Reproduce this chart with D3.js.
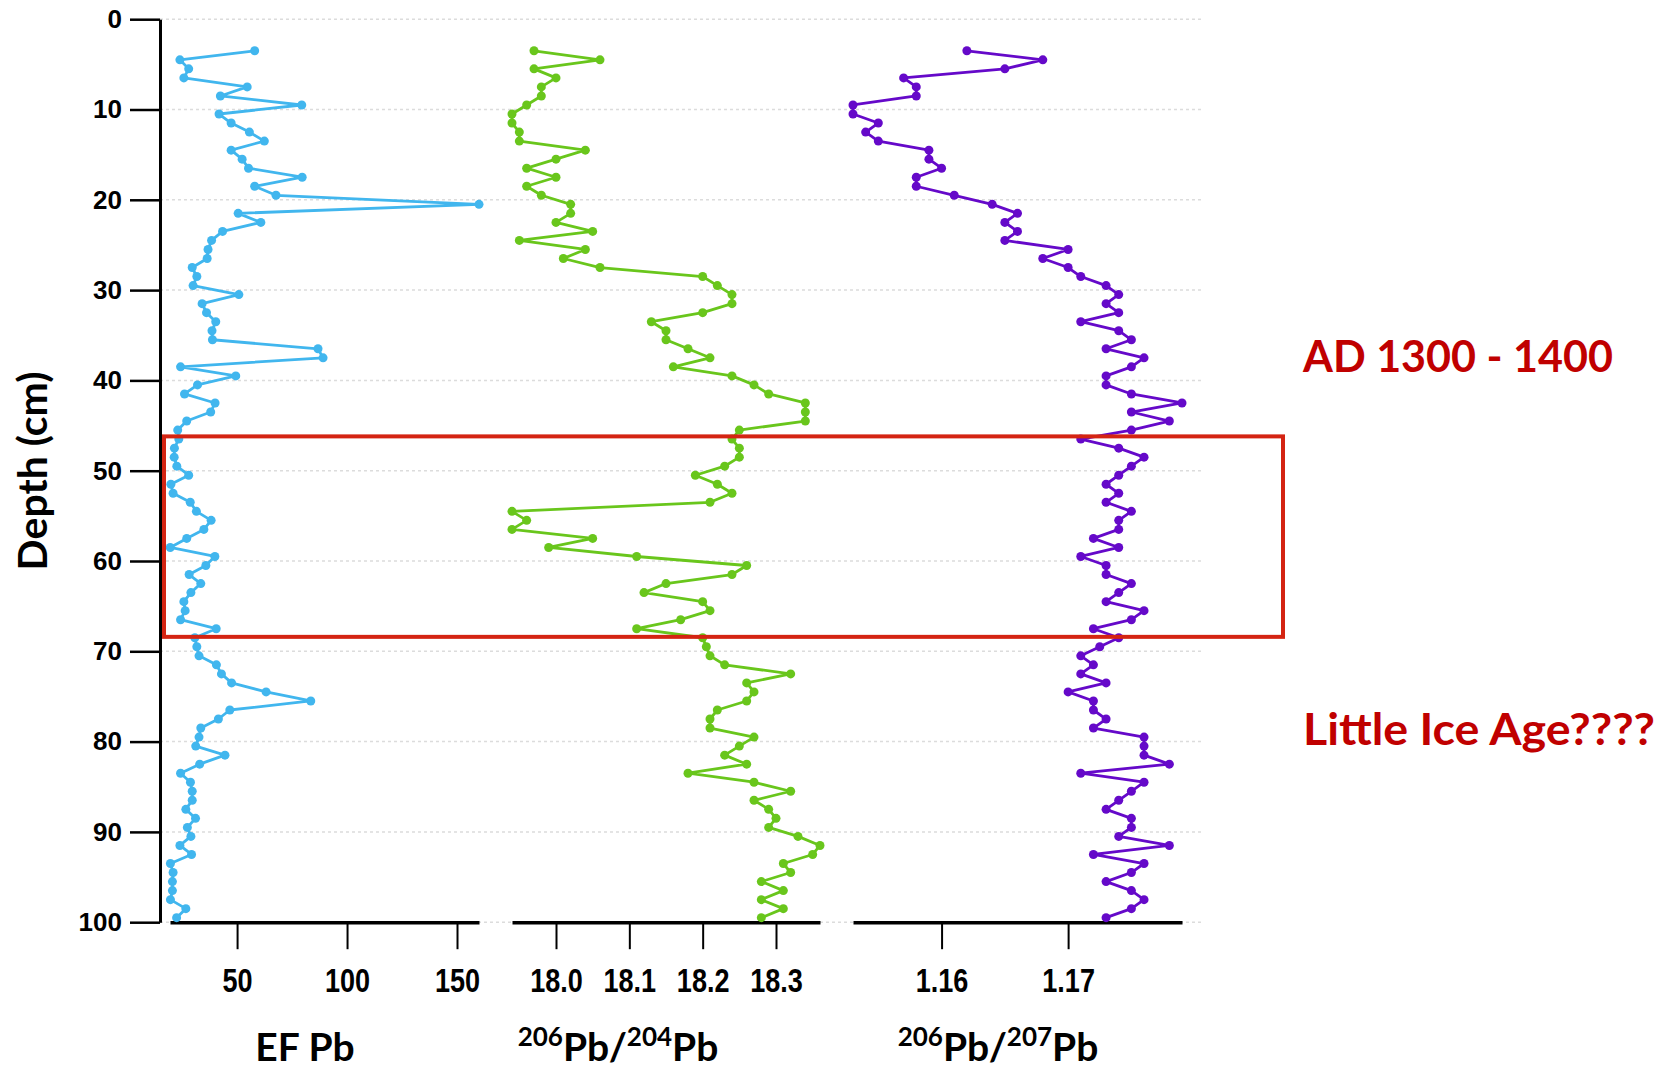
<!DOCTYPE html>
<html>
<head>
<meta charset="utf-8">
<script src="https://cdn.jsdelivr.net/npm/d3@7"></script>
<style>
	body { margin: 0; background: #fff; }
	svg { display: block; }
</style>
</head>
<body>
<div id="chart"></div>
<script>
// DATA
var depths = [3.5, 4.5, 5.5, 6.5, 7.5, 8.5, 9.5, 10.5, 11.5, 12.5, 13.5, 14.5, 15.5, 16.5, 17.5, 18.5, 19.5, 20.5, 21.5, 22.5,
	23.5, 24.5, 25.5, 26.5, 27.5, 28.5, 29.5, 30.5, 31.5, 32.5, 33.5, 34.5, 35.5, 36.5, 37.5, 38.5, 39.5, 40.5, 41.5, 42.5,
	43.5, 44.5, 45.5, 46.5, 47.5, 48.5, 49.5, 50.5, 51.5, 52.5, 53.5, 54.5, 55.5, 56.5, 57.5, 58.5, 59.5, 60.5, 61.5, 62.5,
	63.5, 64.5, 65.5, 66.5, 67.5, 68.5, 69.5, 70.5, 71.5, 72.5, 73.5, 74.5, 75.5, 76.5, 77.5, 78.5, 79.5, 80.5, 81.5, 82.5,
	83.5, 84.5, 85.5, 86.5, 87.5, 88.5, 89.5, 90.5, 91.5, 92.5, 93.5, 94.5, 95.5, 96.5, 97.5, 98.5, 99.5];

var efPb = [58.0, 24.0, 28.0, 25.8, 54.6, 42.4, 79.4, 41.8, 47.3, 55.6, 62.4, 47.3, 52.3, 55.2, 79.6, 58.0, 67.7, 160.0, 50.5, 60.8,
	43.4, 38.4, 36.8, 36.4, 29.6, 31.7, 30.0, 50.8, 34.1, 36.1, 40.3, 38.6,
	38.8, 86.8, 89.1, 24.3, 49.4, 32.0, 26.1, 40.0, 38.0, 27.1, 23.0, 23.5, 21.5, 21.4, 22.6, 28.0, 19.9, 20.9, 28.7, 31.5,
	38.2, 34.9, 27.1, 19.6, 39.9, 35.8, 28.2, 33.5, 29.0, 25.8, 26.4, 24.3, 40.5,
	30.8, 31.7, 32.7, 40.6, 42.9, 47.5, 63.2, 83.5, 46.7, 41.5, 33.5, 32.7, 31.2, 44.5, 33.0, 24.3, 28.8, 29.6, 29.6, 26.7,
	31.1, 27.4, 29.0, 24.0, 29.3, 19.7, 20.9, 20.6, 20.6, 19.7, 26.7, 22.5];

var pb206_204 = [17.97, 18.06, 17.97, 18.00, 17.98, 17.98, 17.96, 17.94, 17.94, 17.95, 17.95, 18.04, 18.00, 17.96, 18.00, 17.96,
	17.98, 18.02, 18.02, 18.00, 18.05, 17.95, 18.04, 18.01, 18.06, 18.20, 18.22, 18.24, 18.24, 18.20, 18.13, 18.15,
	18.15, 18.18, 18.21, 18.16, 18.24, 18.27, 18.29, 18.34, 18.34, 18.34, 18.25, 18.24, 18.25, 18.25, 18.23, 18.19, 18.22,
	18.24, 18.21, 17.94, 17.96, 17.94, 18.05, 17.99, 18.11, 18.26, 18.24, 18.15, 18.12, 18.20, 18.21, 18.17, 18.11,
	18.20, 18.205, 18.21, 18.23, 18.32, 18.26, 18.27, 18.26, 18.22, 18.21, 18.21, 18.27, 18.25, 18.23, 18.26, 18.18,
	18.27, 18.32, 18.27, 18.29, 18.30, 18.29, 18.33, 18.36, 18.35, 18.31, 18.32, 18.28, 18.31, 18.28, 18.31, 18.28];

var pb206_207 = [1.162, 1.168, 1.165, 1.157, 1.158, 1.158, 1.153, 1.153, 1.155, 1.154, 1.155, 1.159, 1.159, 1.160, 1.158, 1.158,
	1.161, 1.164, 1.166, 1.165, 1.166, 1.165, 1.170, 1.168, 1.170, 1.171, 1.173, 1.174, 1.173, 1.174, 1.171, 1.174,
	1.175, 1.173, 1.176, 1.175, 1.173, 1.173, 1.175, 1.179, 1.175, 1.178, 1.175, 1.171, 1.174, 1.176, 1.175, 1.174, 1.173,
	1.174, 1.173, 1.175, 1.174, 1.174, 1.172, 1.174, 1.171, 1.173, 1.173, 1.175, 1.174, 1.173, 1.176, 1.175, 1.172,
	1.174, 1.1725, 1.171, 1.172, 1.171, 1.173, 1.170, 1.172, 1.172, 1.173, 1.172, 1.176, 1.176, 1.176, 1.178, 1.171,
	1.176, 1.175, 1.174, 1.173, 1.175, 1.175, 1.174, 1.178, 1.172, 1.176, 1.175, 1.173, 1.175, 1.176, 1.175, 1.173];

var depthTicks = [0, 10, 20, 30, 40, 50, 60, 70, 80, 90, 100];
var efTicks = [50, 100, 150];
var ratio204Ticks = [18.0, 18.1, 18.2, 18.3];
var ratio207Ticks = [1.16, 1.17];
var boxDepths = [46.2, 68.4];
var notes = ["AD 1300 - 1400", "Little Ice Age????"];

// SETUP
var width = 1678, height = 1071;
var svg = d3.select("#chart").append("svg")
	.attr("width", width)
	.attr("height", height);

var y = d3.scaleLinear().domain([0, 100]).range([19.2, 922.2]);

var panels = [{
	values: efPb, ticks: efTicks, domain: [19.5, 160], range: [170, 479],
	color: "#41b6ee", fmt: d3.format("d"), title: [["EF Pb", false]], titleX: 305
}, {
	values: pb206_204, ticks: ratio204Ticks, domain: [17.94, 18.36], range: [512, 820],
	color: "#69c61c", fmt: d3.format(".1f"), title: [["206", true], ["Pb/", false], ["204", true], ["Pb", false]], titleX: 618
}, {
	values: pb206_207, ticks: ratio207Ticks, domain: [1.153, 1.179], range: [853, 1182],
	color: "#6509c9", fmt: d3.format(".2f"), title: [["206", true], ["Pb/", false], ["207", true], ["Pb", false]], titleX: 998
}];

var titleFont = "Lato, 'Open Sans', sans-serif";

// grid lines
svg.append("g")
	.selectAll("line")
	.data(depthTicks)
	.enter().append("line")
	.attr("x1", 160)
	.attr("x2", 1204)
	.attr("y1", function (d) { return y(d); })
	.attr("y2", function (d) { return y(d); })
	.attr("stroke", "#dcdcdc")
	.attr("stroke-width", 1.5)
	.attr("stroke-dasharray", "3,3");

// y axis
var yAxis = svg.append("g")
	.attr("transform", "translate(160,0)")
	.call(d3.axisLeft(y).tickValues(depthTicks).tickSize(30).tickSizeOuter(0).tickPadding(8));
yAxis.select(".domain").attr("stroke-width", 3);
yAxis.selectAll(".tick line").attr("stroke-width", 2.5);
yAxis.selectAll(".tick text")
	.attr("font-family", "'Liberation Sans', Arial, sans-serif")
	.attr("font-weight", "bold")
	.attr("font-size", 26)
	.attr("fill", "#000");

svg.append("text")
	.attr("transform", "translate(47,471) rotate(-90)")
	.attr("text-anchor", "middle")
	.attr("font-family", titleFont)
	.attr("font-weight", "bold")
	.attr("font-size", 41)
	.text("Depth (cm)");

// DRAWING
panels.forEach(function (p) {
	var x = d3.scaleLinear().domain(p.domain).range(p.range);

	var xAxis = svg.append("g")
		.attr("transform", "translate(0," + y(100) + ")")
		.call(d3.axisBottom(x).tickValues(p.ticks).tickFormat(p.fmt).tickSize(27).tickSizeOuter(0).tickPadding(19));
	xAxis.select(".domain").attr("stroke-width", 3.5);
	xAxis.selectAll(".tick line").attr("stroke-width", 2);
	xAxis.selectAll(".tick text")
		.attr("font-family", "'Liberation Sans', Arial, sans-serif")
		.attr("font-weight", "bold")
		.attr("font-size", 33)
		.attr("transform", "scale(0.82,1)")
		.attr("fill", "#000");

	var line = d3.line()
		.x(function (d, i) { return x(d); })
		.y(function (d, i) { return y(depths[i]); });

	svg.append("path")
		.datum(p.values)
		.attr("fill", "none")
		.attr("stroke", p.color)
		.attr("stroke-width", 2.8)
		.attr("stroke-linejoin", "round")
		.attr("d", line);

	svg.append("g")
		.selectAll("circle")
		.data(p.values)
		.enter().append("circle")
		.attr("cx", function (d) { return x(d); })
		.attr("cy", function (d, i) { return y(depths[i]); })
		.attr("r", 4.5)
		.attr("fill", p.color);

	var t = svg.append("text")
		.attr("x", p.titleX)
		.attr("y", 1061)
		.attr("text-anchor", "middle")
		.attr("font-family", titleFont)
		.attr("font-weight", "bold")
		.attr("font-size", 39);
	t.selectAll("tspan")
		.data(p.title)
		.enter().append("tspan")
		.attr("font-size", function (d) { return d[1] ? 26 : 39; })
		.attr("dy", function (d, i) {
			if (d[1]) return -15;
			return i > 0 ? 15 : 0;
		})
		.text(function (d) { return d[0]; });
});

// annotation box
svg.append("rect")
	.attr("x", 164)
	.attr("y", y(boxDepths[0]))
	.attr("width", 1283 - 164)
	.attr("height", y(boxDepths[1]) - y(boxDepths[0]))
	.attr("fill", "none")
	.attr("stroke", "#d42412")
	.attr("stroke-width", 4);

var noteWidths = [310, 352];
svg.append("g")
	.selectAll("text")
	.data(notes)
	.enter().append("text")
	.attr("x", 1303)
	.attr("y", function (d, i) { return i === 0 ? 372 : 745; })
	.attr("font-family", titleFont)
	.attr("font-weight", "bold")
	.attr("font-size", 43)
	.attr("textLength", function (d, i) { return noteWidths[i]; })
	.attr("lengthAdjust", "spacingAndGlyphs")
	.attr("fill", "#c00000")
	.text(function (d) { return d; });
</script>
</body>
</html>
